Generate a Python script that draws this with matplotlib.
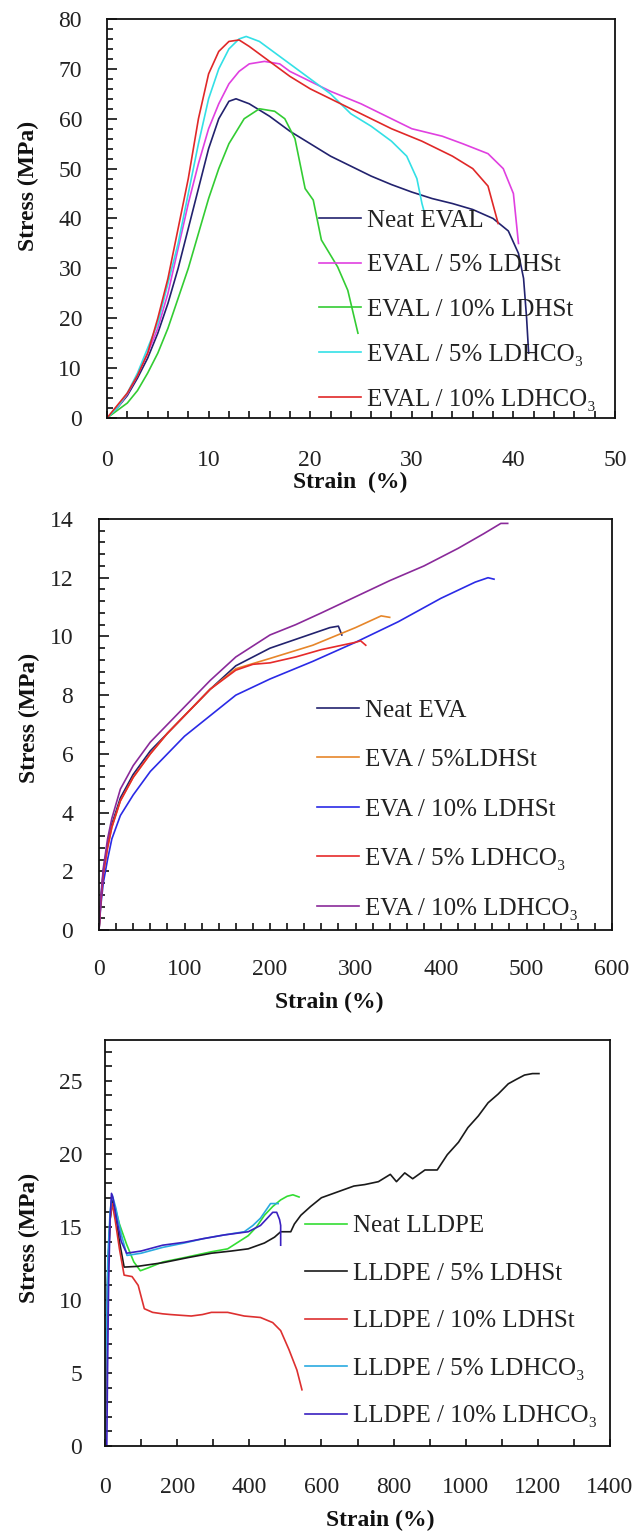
import numpy as np
import matplotlib
matplotlib.use('Agg')
from matplotlib import pyplot as plt
from matplotlib.ticker import MultipleLocator

plt.rcParams['font.family'] = ['Liberation Serif', 'DejaVu Serif']
plt.rcParams['font.size'] = 17

# ---- EVAL (top panel) ----
eval_neat_x = [0, 1, 2, 3, 4, 5, 6, 7, 8, 9, 10, 11, 12, 12.7, 14, 16, 18, 20, 22, 24, 26, 28, 30, 32, 34, 36, 38, 39.5, 40.5, 41, 41.3, 41.5]
eval_neat_y = [0, 2, 4.5, 8, 12, 17, 23, 30, 38, 46, 54, 60, 63.5, 64, 63, 60.5, 57.5, 55, 52.5, 50.5, 48.5, 46.8, 45.3, 44, 43, 41.8, 40, 37.5, 33, 28, 20, 13]
eval_st5_x = [0, 1, 2, 3, 4, 5, 6, 7, 8, 9, 10, 11, 12, 13, 14, 15.5, 17, 18, 20, 22, 25, 28, 30, 33, 35, 37.5, 39, 40, 40.5]
eval_st5_y = [0, 2, 4.8, 8.5, 13, 18, 25, 34, 43, 51, 58, 63, 67, 69.5, 71, 71.5, 71, 69.5, 67.5, 65.5, 63, 60, 58, 56.5, 55, 53, 50, 45, 35]
eval_st10_x = [0, 1, 2, 3, 4, 5, 6, 7, 8, 9, 10, 11, 12, 13.5, 15, 16.5, 17.5, 18.5, 19.5, 20.3, 21.1, 22.7, 23.7, 24.7]
eval_st10_y = [0, 1.5, 3, 5.5, 9, 13, 18, 24, 30, 37, 44, 50, 55, 60, 62, 61.5, 60, 56, 46, 43.7, 35.7, 30.3, 25.6, 17]
eval_co5_x = [0, 1, 2, 3, 4, 5, 6, 7, 8, 9, 10, 11, 12, 13, 13.7, 15, 16, 18, 20, 22, 24, 26, 28, 29.5, 30.5, 31, 31.2]
eval_co5_y = [0, 2, 5, 9, 14, 19, 27, 35, 45, 55, 64, 70, 74, 76, 76.5, 75.5, 74, 71, 68, 65, 61, 58.5, 55.5, 52.5, 48, 43, 41.5]
eval_co10_x = [0, 1, 2, 3, 4, 5, 6, 7, 8, 9, 10, 11, 12, 13, 14, 16, 18, 20, 22, 25, 28, 31, 34, 36, 37.5, 38.5]
eval_co10_y = [0, 2.5, 5, 8.5, 13, 20, 28, 38, 48, 60, 69, 73.5, 75.5, 75.8, 74.5, 71.5, 68.5, 66, 64, 61, 58, 55.5, 52.5, 50, 46.5, 39]

# ---- EVA (middle panel) ----
eva_neat_x = [0, 2, 5, 10, 15, 25, 40, 60, 80, 100, 130, 160, 200, 240, 270, 280, 284]
eva_neat_y = [0, 1.0, 2.0, 2.9, 3.6, 4.5, 5.3, 6.1, 6.7, 7.3, 8.2, 9.0, 9.6, 10.0, 10.3, 10.35, 10.05]
eva_st5_x = [0, 2, 5, 10, 15, 25, 40, 60, 80, 100, 130, 160, 200, 250, 300, 330, 340]
eva_st5_y = [0, 0.9, 1.9, 2.8, 3.5, 4.4, 5.2, 6.0, 6.7, 7.3, 8.2, 8.9, 9.25, 9.7, 10.3, 10.7, 10.65]
eva_st10_x = [0, 2, 5, 10, 15, 25, 40, 60, 80, 100, 130, 160, 200, 250, 300, 350, 400, 440, 455, 462]
eva_st10_y = [0, 0.8, 1.6, 2.4, 3.1, 3.9, 4.6, 5.4, 6.0, 6.6, 7.3, 8.0, 8.55, 9.15, 9.8, 10.5, 11.3, 11.85, 12.0, 11.95]
eva_co5_x = [0, 2, 5, 10, 15, 25, 40, 60, 80, 100, 130, 160, 180, 200, 230, 260, 300, 306, 312]
eva_co5_y = [0, 0.9, 1.9, 2.8, 3.5, 4.4, 5.2, 6.0, 6.7, 7.3, 8.2, 8.85, 9.05, 9.1, 9.3, 9.55, 9.8, 9.85, 9.7]
eva_co10_x = [0, 2, 5, 10, 15, 25, 40, 60, 80, 100, 130, 160, 200, 230, 260, 300, 340, 380, 420, 450, 470, 478]
eva_co10_y = [0, 1.1, 2.1, 3.1, 3.8, 4.8, 5.6, 6.4, 7.0, 7.6, 8.5, 9.3, 10.05, 10.4, 10.8, 11.35, 11.9, 12.4, 13.0, 13.5, 13.85, 13.85]

# ---- LLDPE (bottom panel) ----
pe_neat_x = [0, 3, 8, 14, 20, 26, 40, 60, 80, 98, 120, 160, 220, 295, 340, 397, 420, 442, 465, 487, 505, 521, 538]
pe_neat_y = [0, 6, 12, 15.5, 16.8, 16.5, 15.2, 13.8, 12.6, 12.0, 12.2, 12.6, 12.9, 13.3, 13.5, 14.4, 15.0, 15.8, 16.4, 16.85, 17.1, 17.2, 17.05]
pe_st5_x = [0, 3, 8, 14, 20, 28, 40, 53, 90, 160, 230, 295, 350, 397, 442, 470, 487, 500, 515, 525, 543, 570, 600, 645, 690, 720, 758, 791, 808, 831, 853, 870, 887, 921, 949, 980, 1006, 1035, 1062, 1090, 1118, 1140, 1163, 1185, 1203]
pe_st5_y = [0, 6, 12, 15.5, 16.8, 16.2, 14.0, 12.25, 12.3, 12.55, 12.9, 13.2, 13.35, 13.5, 13.9, 14.3, 14.67, 14.67, 14.67, 15.2, 15.8, 16.4, 17.0, 17.4, 17.8, 17.9, 18.1, 18.6, 18.1, 18.7, 18.3, 18.6, 18.9, 18.9, 19.95, 20.8, 21.8, 22.6, 23.5, 24.1, 24.8, 25.1, 25.4, 25.5, 25.5]
pe_st10_x = [0, 3, 8, 14, 20, 28, 40, 53, 75, 92, 109, 132, 160, 182, 210, 239, 270, 295, 340, 386, 431, 465, 487, 510, 532, 546]
pe_st10_y = [0, 6, 12, 15.5, 16.6, 15.5, 13.5, 11.7, 11.6, 11.0, 9.4, 9.15, 9.05, 9.0, 8.95, 8.9, 9.0, 9.15, 9.15, 8.9, 8.8, 8.45, 7.9, 6.6, 5.2, 3.85]
pe_co5_x = [0, 3, 8, 14, 20, 30, 45, 61, 100, 160, 220, 273, 330, 386, 410, 431, 445, 459, 476, 480]
pe_co5_y = [0, 7, 13, 16, 17.2, 16.3, 14.5, 13.05, 13.2, 13.6, 13.9, 14.2, 14.45, 14.67, 15.1, 15.6, 16.1, 16.6, 16.6, 16.6]
pe_co10_x = [5, 7, 10, 14, 18, 22, 30, 45, 60, 100, 160, 220, 273, 330, 397, 431, 450, 465, 476, 484, 487, 487]
pe_co10_y = [0, 5, 11, 15.5, 17.3, 17.0, 15.8, 14.0, 13.2, 13.35, 13.75, 13.95, 14.2, 14.45, 14.67, 15.1, 15.6, 16.0, 16.0, 15.5, 15.1, 13.75]

eval_labels = ['Neat EVAL', 'EVAL / 5% LDHSt', 'EVAL / 10% LDHSt', 'EVAL / 5% LDHCO\u2083', 'EVAL / 10% LDHCO\u2083']
eva_labels = ['Neat EVA', 'EVA / 5%LDHSt', 'EVA / 10% LDHSt', 'EVA / 5% LDHCO\u2083', 'EVA / 10% LDHCO\u2083']
pe_labels = ['Neat LLDPE', 'LLDPE / 5% LDHSt', 'LLDPE / 10% LDHSt', 'LLDPE / 5% LDHCO\u2083', 'LLDPE / 10% LDHCO\u2083']

eval_colors = ['#22226e', '#e040e0', '#33cc33', '#33e0e6', '#e02828']
eva_colors = ['#22226e', '#e6862a', '#2a2ae6', '#e62a2a', '#8a2a9a']
pe_colors = ['#33dd33', '#1a1a1a', '#dd3030', '#2aaae0', '#3a20c0']

W, H = 637, 1537
fig = plt.figure(figsize=(W / 100, H / 100), dpi=100)


def box(l, t, r, b):
    return [l / W, 1 - b / H, (r - l) / W, (b - t) / H]


def setup(ax, xmax, ymax, xmaj, xmin, ymaj, ymin, ylen, xpad, ypad):
    ax.set_xlim(0, xmax)
    ax.set_ylim(0, ymax)
    ax.xaxis.set_major_locator(MultipleLocator(xmaj))
    ax.xaxis.set_minor_locator(MultipleLocator(xmin))
    ax.yaxis.set_major_locator(MultipleLocator(ymaj))
    ax.yaxis.set_minor_locator(MultipleLocator(ymin))
    ax.tick_params(axis='x', which='major', direction='in', length=5, width=1.2, pad=xpad, labelsize=17)
    ax.tick_params(axis='x', which='minor', direction='in', length=5, width=1.2)
    ax.tick_params(axis='y', which='major', direction='in', length=ylen[0], width=1.2, pad=ypad, labelsize=17)
    ax.tick_params(axis='y', which='minor', direction='in', length=ylen[1], width=1.2)
    for s in ax.spines.values():
        s.set_linewidth(1.3)
        s.set_color('#111111')
    ax.tick_params(which='both', colors='#111111', labelcolor='#222222')


def curves(ax, xs, ys, colors, labels, lx, ly, spacing):
    for x, y, c, lab in zip(xs, ys, colors, labels):
        ax.plot(x, y, color=c, lw=1.2, label=lab)
    ax.legend(loc='upper left', bbox_to_anchor=(lx, ly), frameon=False, borderpad=0,
              borderaxespad=0, handlelength=1.68, handletextpad=0.24, labelspacing=spacing,
              fontsize=18, labelcolor='#222222')


# top: EVAL
ax1 = fig.add_axes(box(107, 19, 615, 418))
curves(ax1, [eval_neat_x, eval_st5_x, eval_st10_x, eval_co5_x, eval_co10_x],
       [eval_neat_y, eval_st5_y, eval_st10_y, eval_co5_y, eval_co10_y],
       eval_colors, eval_labels, 0.417, 0.5235, 0.89)
setup(ax1, 50, 80, 10, 2, 10, 2, (7, 4.5), 23, 18)

# middle: EVA
ax2 = fig.add_axes(box(99, 519, 612, 930))
curves(ax2, [eva_neat_x, eva_st5_x, eva_st10_x, eva_co5_x, eva_co10_x],
       [eva_neat_y, eva_st5_y, eva_st10_y, eva_co5_y, eva_co10_y],
       eva_colors, eva_labels, 0.425, 0.562, 1.08)
setup(ax2, 600, 14, 100, 20, 2, 0.4, (7, 4), 21, 18.5)

# bottom: LLDPE
ax3 = fig.add_axes(box(105, 1040, 610, 1446))
curves(ax3, [pe_neat_x, pe_st5_x, pe_st10_x, pe_co5_x, pe_co10_x],
       [pe_neat_y, pe_st5_y, pe_st10_y, pe_co5_y, pe_co10_y],
       pe_colors, pe_labels, 0.396, 0.569, 1.0)
setup(ax3, 1400, 27.8, 200, 100, 5, 1, (5, 5), 22, 16.5)

# axis titles
for (xx, yy), txt in [((350, 482), 'Strain  (%)'), ((329, 1002), 'Strain (%)'), ((380, 1520), 'Strain (%)')]:
    fig.text(xx / W, 1 - yy / H, txt, ha='center', va='center', fontsize=17, fontweight='bold', color='#111111')
for (xx, yy) in [(28, 186), (29, 718), (29, 1238)]:
    fig.text(xx / W, 1 - yy / H, 'Stress (MPa)', ha='center', va='center', rotation=90,
             fontsize=17, fontweight='bold', color='#111111')

fig.savefig('out.png', dpi=100, facecolor='white')
